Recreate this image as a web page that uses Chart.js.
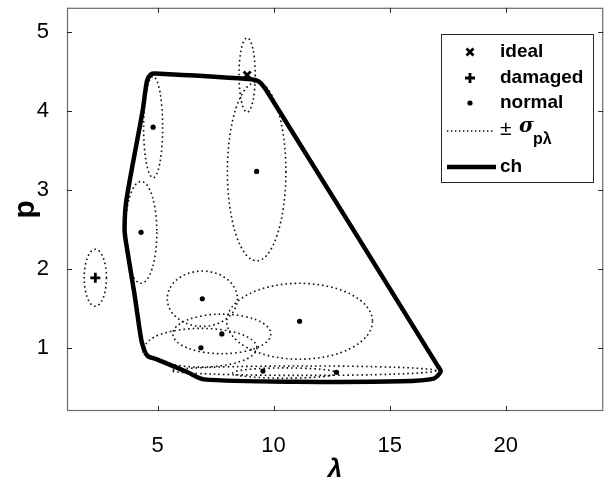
<!DOCTYPE html>
<html>
<head>
<meta charset="utf-8">
<script src="https://cdn.jsdelivr.net/npm/chart.js@4.4.1/dist/chart.umd.min.js"></script>
<style>
  html, body { margin: 0; padding: 0; background: #fff; }
  #wrap { width: 611px; height: 489px; position: relative; }
</style>
</head>
<body>
<div id="wrap"><canvas id="c" width="611" height="489"></canvas></div>
<script>
// ---- data ----
const xTickValues = [5, 10, 15, 20];
const yTickValues = [1, 2, 3, 4, 5];

const idealLambda = [8.86];
const idealP = [4.45];

const damagedLambda = [2.32];
const damagedP = [1.885];

const normalLambda = [4.81, 9.27, 4.29, 6.93, 11.12, 7.77, 6.87, 9.54, 12.71];
const normalP = [3.79, 3.23, 2.46, 1.62, 1.335, 1.175, 1.0, 0.705, 0.69];

// +/- sigma ellipses (centre and half-widths)
const sigmaCenterLambda = [8.86, 2.32, 4.81, 9.27, 4.29, 6.93, 11.12, 7.77, 6.87, 10.5, 11.3];
const sigmaCenterP = [4.45, 1.885, 3.79, 3.23, 2.46, 1.62, 1.335, 1.175, 1.0, 0.68, 0.71];
const sigmaLambda = [0.35, 0.48, 0.41, 1.26, 0.68, 1.51, 3.14, 2.11, 2.41, 2.26, 5.7];
const sigmaP = [0.47, 0.36, 0.64, 1.13, 0.645, 0.35, 0.48, 0.25, 0.245, 0.065, 0.06];

// convex hull outline (ch)
const hullLambda = [4.46, 4.30, 4.00, 3.66, 3.58, 3.66, 4.36, 4.55, 4.72, 4.90, 8.9, 9.35, 9.70, 17.05, 17.2, 16.9, 15.5, 11.0, 7.0, 6.3, 5.0, 4.6, 4.46];
const hullP = [0.94, 1.10, 1.69, 2.30, 2.49, 2.87, 4.00, 4.38, 4.46, 4.47, 4.40, 4.37, 4.25, 0.78, 0.70, 0.61, 0.575, 0.57, 0.60, 0.69, 0.85, 0.89, 0.94];

const legendLabels = ['ideal', 'damaged', 'normal', '\u00b1 ', 'ch'];

// ---- build datasets ----
const toPts = (xs, ys) => xs.map((v, i) => ({ x: v, y: ys[i] }));

const FONT = '"Liberation Sans", Arial, Helvetica, sans-serif';

const ellipsePlugin = {
  id: 'ellipses',
  beforeDatasetsDraw(chart) {
    const { ctx, chartArea, scales: { x, y } } = chart;
    ctx.save();
    ctx.beginPath();
    ctx.rect(chartArea.left, chartArea.top, chartArea.right - chartArea.left, chartArea.bottom - chartArea.top);
    ctx.clip();
    ctx.strokeStyle = '#111';
    ctx.lineWidth = 1.6;
    ctx.setLineDash([1.6, 3.0]);
    for (let i = 0; i < sigmaCenterLambda.length; i++) {
      const cx = x.getPixelForValue(sigmaCenterLambda[i]);
      const cy = y.getPixelForValue(sigmaCenterP[i]);
      const rx = Math.abs(x.getPixelForValue(sigmaCenterLambda[i] + sigmaLambda[i]) - cx);
      const ry = Math.abs(y.getPixelForValue(sigmaCenterP[i] + sigmaP[i]) - cy);
      ctx.beginPath();
      ctx.ellipse(cx, cy, rx, ry, 0, 0, Math.PI * 2);
      ctx.stroke();
    }
    ctx.restore();
  }
};

const framePlugin = {
  id: 'frame',
  afterDraw(chart) {
    const { ctx, chartArea: a, scales: { x, y } } = chart;
    ctx.save();
    ctx.strokeStyle = '#6b6b6b';
    ctx.lineWidth = 1.2;
    ctx.setLineDash([]);
    ctx.strokeRect(a.left + 0.5, a.top + 0.5, a.right - a.left - 1, a.bottom - a.top - 1);
    ctx.strokeStyle = '#262626';
    ctx.lineWidth = 1;
    const tl = 5;
    ctx.beginPath();
    xTickValues.forEach(v => {
      const px = Math.round(x.getPixelForValue(v)) + 0.5;
      ctx.moveTo(px, a.bottom); ctx.lineTo(px, a.bottom - tl);
      ctx.moveTo(px, a.top); ctx.lineTo(px, a.top + tl);
    });
    yTickValues.forEach(v => {
      const py = Math.round(y.getPixelForValue(v)) + 0.5;
      ctx.moveTo(a.left, py); ctx.lineTo(a.left + tl, py);
      ctx.moveTo(a.right, py); ctx.lineTo(a.right - tl, py);
    });
    ctx.stroke();

    // legend
    const bx = 441, by = 34, bw = 152, bh = 148;
    ctx.fillStyle = '#fff';
    ctx.fillRect(bx, by, bw, bh);
    ctx.strokeStyle = '#262626';
    ctx.lineWidth = 1;
    ctx.strokeRect(bx + 0.5, by + 0.5, bw, bh);
    const mx = 470, tx = 500;
    const rows = [52, 78, 103, 135, 167];
    ctx.fillStyle = '#000';
    ctx.strokeStyle = '#000';
    // ideal x
    ctx.lineWidth = 2.8;
    ctx.beginPath();
    ctx.moveTo(mx - 3.5, rows[0] - 3.5); ctx.lineTo(mx + 3.5, rows[0] + 3.5);
    ctx.moveTo(mx + 3.5, rows[0] - 3.5); ctx.lineTo(mx - 3.5, rows[0] + 3.5);
    ctx.stroke();
    // damaged +
    ctx.beginPath();
    ctx.moveTo(mx - 5, rows[1]); ctx.lineTo(mx + 5, rows[1]);
    ctx.moveTo(mx, rows[1] - 5); ctx.lineTo(mx, rows[1] + 5);
    ctx.stroke();
    // normal dot
    ctx.beginPath();
    ctx.arc(mx, rows[2], 2.6, 0, Math.PI * 2);
    ctx.fill();
    // dotted
    ctx.lineWidth = 1.3;
    ctx.setLineDash([1.4, 2.6]);
    ctx.beginPath();
    ctx.moveTo(447, rows[3] - 4); ctx.lineTo(495, rows[3] - 4);
    ctx.stroke();
    ctx.setLineDash([]);
    // thick line
    ctx.lineWidth = 4.5;
    ctx.beginPath();
    ctx.moveTo(447, rows[4]); ctx.lineTo(496, rows[4]);
    ctx.stroke();

    ctx.textBaseline = 'middle';
    ctx.textAlign = 'left';
    ctx.font = 'bold 19px ' + FONT;
    ctx.fillText(legendLabels[0], tx, rows[0]);
    ctx.fillText(legendLabels[1], tx, rows[1]);
    ctx.fillText(legendLabels[2], tx, rows[2]);
    ctx.fillText(legendLabels[4], tx, rows[4]);
    // ± sigma_{p lambda}
    ctx.font = '21px ' + FONT;
    ctx.fillText('\u00b1', tx, rows[3] - 6);
    ctx.font = 'italic bold 20px "DejaVu Serif", serif';
    ctx.fillText('\u03c3', tx + 19, rows[3] - 8);
    ctx.font = 'bold 16px ' + FONT;
    ctx.fillText('p\u03bb', tx + 33, rows[3] + 5);
    ctx.restore();
  }
};

new Chart(document.getElementById('c'), {
  type: 'scatter',
  data: {
    datasets: [
      {
        label: 'ch',
        data: toPts(hullLambda, hullP),
        showLine: true,
        borderColor: '#000',
        borderWidth: 4.5,
        pointRadius: 0,
        tension: 0.25,
        fill: false,
        order: 3
      },
      {
        label: 'normal',
        data: toPts(normalLambda, normalP),
        pointStyle: 'circle',
        pointRadius: 2.6,
        backgroundColor: '#000',
        borderColor: '#000',
        borderWidth: 0,
        order: 2
      },
      {
        label: 'damaged',
        data: toPts(damagedLambda, damagedP),
        pointStyle: 'cross',
        pointRadius: 5,
        borderColor: '#000',
        borderWidth: 2.8,
        order: 1
      },
      {
        label: 'ideal',
        data: toPts(idealLambda, idealP),
        pointStyle: 'crossRot',
        pointRadius: 5,
        borderColor: '#000',
        borderWidth: 2.8,
        order: 0
      }
    ]
  },
  options: {
    responsive: false,
    animation: false,
    events: [],
    layout: { padding: { top: 7, right: 2, left: 0, bottom: 0 } },
    plugins: { legend: { display: false }, tooltip: { enabled: false } },
    scales: {
      x: {
        type: 'linear',
        min: 1.1,
        max: 24.2,
        afterBuildTicks: s => { s.ticks = xTickValues.map(v => ({ value: v })); },
        afterFit: s => { s.height = 78; s.paddingLeft = 0; s.paddingRight = 0; },
        grid: { display: false },
        border: { display: false },
        ticks: { color: '#000', font: { family: FONT, size: 22 }, padding: 14 },
        title: { display: true, text: '\u03bb', color: '#000', font: { family: FONT, size: 26, style: 'italic', weight: 'bold' }, padding: { top: 0, bottom: 4 } }
      },
      y: {
        type: 'linear',
        min: 0.2,
        max: 5.3,
        afterBuildTicks: s => { s.ticks = yTickValues.map(v => ({ value: v })); },
        afterFit: s => { s.width = 67; s.paddingTop = 0; s.paddingBottom = 0; },
        grid: { display: false },
        border: { display: false },
        ticks: { color: '#000', font: { family: FONT, size: 22 }, padding: 10 },
        title: { display: true, text: 'p', color: '#000', font: { family: FONT, size: 30, weight: 'bold' }, padding: { top: 8, bottom: 0 } }
      }
    }
  },
  plugins: [ellipsePlugin, framePlugin]
});
</script>
</body>
</html>
